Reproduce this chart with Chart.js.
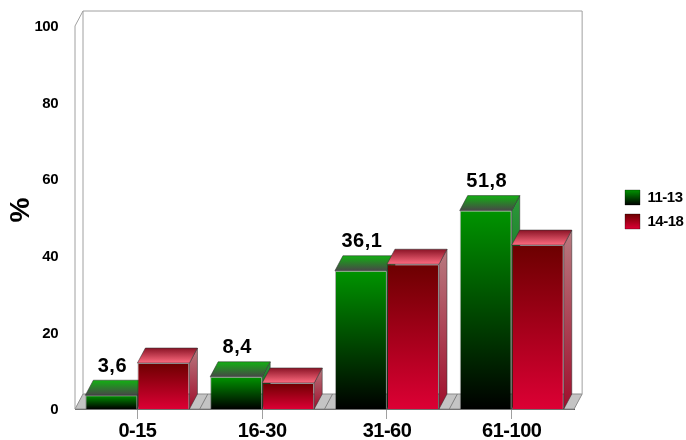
<!DOCTYPE html>
<html>
<head>
<meta charset="utf-8">
<style>
  html, body { margin: 0; background: #fff; }
  #wrap { width: 686px; height: 440px; }
</style>
</head>
<body>
<div id="wrap"><canvas id="ageChart" width="686" height="440"></canvas></div>
<script src="https://cdn.jsdelivr.net/npm/chart.js@4/dist/chart.umd.min.js"></script>
<script>
const categories = ['0-15', '16-30', '31-60', '61-100'];
const seriesNames = ['11-13', '14-18'];
const values1113 = [3.6, 8.4, 36.1, 51.8];
const values1418 = [12, 6.8, 37.8, 42.8];
const yTicks = [0, 20, 40, 60, 80, 100];

// fake 3d depth of the bars and the box, in pixels
const DX = 8;
const DY = -15;

const FONT = '"Liberation Sans", Arial, sans-serif';

const faceColors = [
  {
    frontTop: '#009400', frontBottom: '#000000',
    topBack: '#12b012', topFront: '#474747',
    sideTop: '#2c9a3a', sideBottom: '#063a10'
  },
  {
    frontTop: '#6c0000', frontBottom: '#dc0034',
    topBack: '#8a1426', topFront: '#ff6b80',
    sideTop: '#b87a80', sideBottom: '#a00e2c'
  }
];

function vGradient(ctx, y0, y1, c0, c1) {
  const g = ctx.createLinearGradient(0, y0, 0, y1);
  g.addColorStop(0, c0);
  g.addColorStop(1, c1);
  return g;
}

function frontFill(index) {
  const c = faceColors[index];
  return context => {
    const chart = context.chart;
    if (!chart.chartArea || context.raw === undefined) return c.frontTop;
    const y = chart.scales.y;
    return vGradient(chart.ctx, y.getPixelForValue(context.raw), y.getPixelForValue(0), c.frontTop, c.frontBottom);
  };
}

function poly(ctx, pts, fill, stroke) {
  ctx.beginPath();
  pts.forEach((p, i) => (i ? ctx.lineTo(p[0], p[1]) : ctx.moveTo(p[0], p[1])));
  ctx.closePath();
  if (fill) {
    ctx.fillStyle = fill;
    ctx.fill();
  }
  if (stroke) {
    ctx.strokeStyle = stroke;
    ctx.stroke();
  }
}

// walls and floor behind the bars
const boxPlugin = {
  id: 'box',
  beforeDraw(chart) {
    chart.ctx.letterSpacing = '-0.5px';
  },
  beforeDatasetsDraw(chart) {
    const { ctx, chartArea: a, scales } = chart;
    ctx.save();
    ctx.lineWidth = 1;
    const floor = [[a.left, a.bottom], [a.left + DX, a.bottom + DY], [a.right + DX, a.bottom + DY], [a.right, a.bottom]];
    poly(ctx, floor, '#c4c4c4', '#8c8c8c');
    ctx.strokeStyle = '#a0a0a0';
    ctx.beginPath();
    ctx.moveTo(a.left, a.bottom);
    ctx.lineTo(a.left, a.top);
    ctx.lineTo(a.left + DX, a.top + DY);
    ctx.lineTo(a.left + DX, a.bottom + DY);
    ctx.moveTo(a.left + DX, a.top + DY);
    ctx.lineTo(a.right + DX, a.top + DY);
    ctx.lineTo(a.right + DX, a.bottom + DY);
    ctx.stroke();
    // floor divisions between the categories
    const half = (scales.x.getPixelForTick(1) - scales.x.getPixelForTick(0)) / 2;
    ctx.strokeStyle = '#808080';
    ctx.beginPath();
    categories.slice(1).forEach((c, i) => {
      const x = scales.x.getPixelForTick(i + 1) - half;
      ctx.moveTo(x, a.bottom);
      ctx.lineTo(x + DX, a.bottom + DY);
    });
    ctx.stroke();
    // top and side faces, the library paints the fronts over these
    chart.data.datasets.forEach((ds, di) => {
      const c = faceColors[di];
      chart.getDatasetMeta(di).data.forEach(bar => {
        const l = bar.x - bar.width / 2;
        const r = bar.x + bar.width / 2;
        const t = bar.y;
        const b = bar.base;
        const edge = 'rgba(50,50,50,0.55)';
        poly(ctx, [[r, t], [r + DX, t + DY], [r + DX, b + DY], [r, b]],
          vGradient(ctx, t + DY, b, c.sideTop, c.sideBottom), edge);
        poly(ctx, [[l, t], [l + DX, t + DY], [r + DX, t + DY], [r, t]],
          vGradient(ctx, t + DY, t, c.topBack, c.topFront), edge);
      });
    });
    ctx.restore();
  },
  afterDatasetsDraw(chart) {
    const { ctx } = chart;
    ctx.save();
    ctx.letterSpacing = '0.5px';
    ctx.font = 'bold 20px ' + FONT;
    ctx.fillStyle = '#000';
    ctx.textAlign = 'center';
    ctx.textBaseline = 'middle';
    chart.getDatasetMeta(0).data.forEach((bar, i) => {
      ctx.fillText(String(values1113[i]).replace('.', ','), bar.x + 1, bar.y - 29);
    });
    ctx.restore();
  },
  afterLayout(chart) {
    // legend sits away from the plot, not right against it
    chart.legend.left = 616;
    chart.legend.right = 686;
    chart.legend.top = 0;
    chart.legend.bottom = 419;
  }
};

new Chart(document.getElementById('ageChart'), {
  type: 'bar',
  plugins: [boxPlugin],
  data: {
    labels: categories,
    datasets: [
      { label: seriesNames[0], data: values1113, backgroundColor: frontFill(0), borderColor: 'rgba(0,0,0,0.3)', borderWidth: 1 },
      { label: seriesNames[1], data: values1418, backgroundColor: frontFill(1), borderColor: 'rgba(0,0,0,0.3)', borderWidth: 1 }
    ]
  },
  options: {
    responsive: false,
    animation: false,
    devicePixelRatio: 1,
    layout: { padding: { top: 26, left: 0, right: 32, bottom: 0 } },
    datasets: { bar: { barPercentage: 1, categoryPercentage: 0.834 } },
    scales: {
      x: {
        afterFit: s => { s.height = 31; },
        grid: { offset: false, drawOnChartArea: false, drawTicks: true, tickLength: 10, tickColor: '#a0a0a0' },
        border: { color: '#5a5a5a' },
        ticks: { color: '#000', padding: 0, maxRotation: 0, font: { family: FONT, size: 20, weight: 'bold' } }
      },
      y: {
        min: 0,
        max: 100,
        afterFit: s => { s.width = 75; },
        afterBuildTicks: s => { s.ticks = yTicks.map(v => ({ value: v })); },
        grid: { display: false },
        border: { display: false },
        title: { display: true, text: '  %', color: '#000', padding: { top: 4, bottom: 0 }, font: { family: FONT, size: 28, weight: 'bold' } },
        ticks: { color: '#000', padding: 9, labelOffset: 1, font: { family: FONT, size: 15, weight: 'bold' } }
      }
    },
    plugins: {
      tooltip: { enabled: false },
      legend: {
        position: 'right',
        labels: {
          color: '#000',
          boxWidth: 15,
          boxHeight: 15,
          padding: 9,
          font: { family: FONT, size: 15, weight: 'bold' },
          generateLabels(chart) {
            return seriesNames.map((name, i) => {
              const top = 190 + i * 24;
              return {
                text: name,
                datasetIndex: i,
                fillStyle: vGradient(chart.ctx, top, top + 15, faceColors[i].frontTop, faceColors[i].frontBottom),
                strokeStyle: 'rgba(0,0,0,0.3)',
                lineWidth: 1,
                fontColor: '#000'
              };
            });
          }
        }
      }
    }
  }
});
</script>
</body>
</html>
